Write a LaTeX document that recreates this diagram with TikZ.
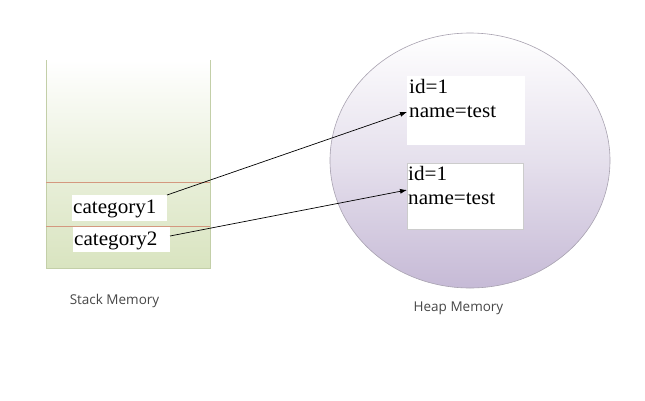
\documentclass[tikz,border=0pt]{standalone}
\usepackage{fontspec}
\setmainfont{Liberation Serif}
\newfontfamily\cellfont[FakeStretch=1.03]{Liberation Serif}
\newfontfamily\labfont{Open Sans}
\usetikzlibrary{arrows.meta}
\definecolor{stackbot}{HTML}{D9E4C0}
\definecolor{stackedge}{HTML}{C3CFA8}
\definecolor{heapbot}{HTML}{C6BAD6}
\definecolor{heapedge}{HTML}{A8A2B0}
\definecolor{sepred}{HTML}{D4987F}
\tikzset{
  whitebox/.style={fill=white, draw=none, inner sep=0pt},
  celltext/.style={font=\cellfont\fontsize{20.5}{22}\selectfont, inner sep=0pt, anchor=base west},
  lab/.style={font=\labfont\fontsize{13.5}{15}\selectfont, text=black!72},
  ptr/.style={draw=black, line width=0.7pt, -{Latex[length=7pt,width=5pt]}}
}
\begin{document}
\begin{tikzpicture}[x=1pt,y=-1pt]
\useasboundingbox (0,0) rectangle (645,400);
% stack
\shade[top color=white, bottom color=stackbot, middle color=stackbot!55] (46,60) rectangle (210,268);
\draw[stackedge, line width=0.9pt] (46,60) -- (46,268) -- (210,268) -- (210,60);
\draw[sepred, line width=0.7pt] (46,182.5) -- (210,182.5);
\draw[sepred, line width=0.7pt] (46,226) -- (210,226);
\node[whitebox, minimum width=95pt, minimum height=26pt, anchor=north west] (c1) at (72,195) {};
\node[celltext] at (73,213) {category1};
\node[whitebox, minimum width=97pt, minimum height=25pt, anchor=north west] (c2) at (73,227) {};
\node[celltext] at (74,245) {category2};
\node[lab] (sl) at (114.5,301) {Stack Memory};
% heap
\shade[top color=white, bottom color=heapbot, middle color=heapbot!45] (470,160.5) ellipse [x radius=140, y radius=127.5];
\draw[heapedge, line width=0.6pt] (470,160.5) ellipse [x radius=140, y radius=127.5];
\node[whitebox, minimum width=118pt, minimum height=69pt, anchor=north west] (h1) at (407,76) {};
\node[celltext] at (409,93) {id=1};
\node[celltext] at (409,117) {name=test};
\node[whitebox, draw=black!20, line width=0.4pt, minimum width=116pt, minimum height=66pt, anchor=north west] (h2) at (407,163) {};
\node[celltext] at (408,180) {id=1};
\node[celltext] at (408,204) {name=test};
\node[lab] (hl) at (458.5,308) {Heap Memory};
% pointers
\coordinate (a1s) at (167,195);
\coordinate (a1e) at (407,112);
\coordinate (a2s) at (170,236);
\coordinate (a2e) at (407,190);
\draw[ptr] (a1s) -- (a1e);
\draw[ptr] (a2s) -- (a2e);
\end{tikzpicture}
\end{document}
